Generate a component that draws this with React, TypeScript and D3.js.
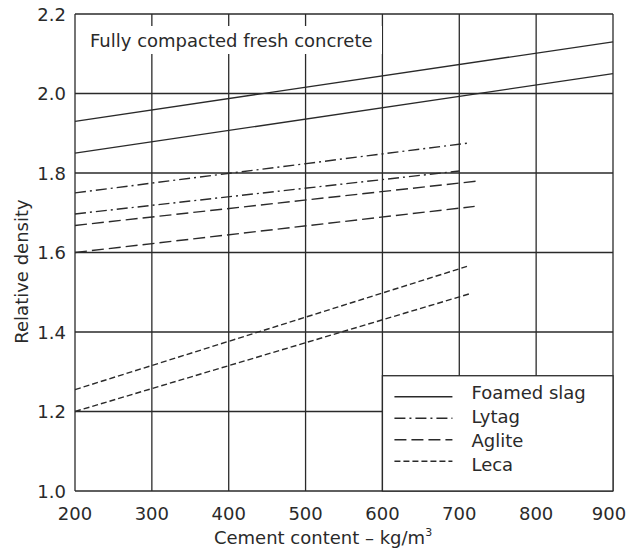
import * as d3 from "d3";

// chart values
const xTicks = [200, 300, 400, 500, 600, 700, 800, 900];
const yTicks = [1.0, 1.2, 1.4, 1.6, 1.8, 2.0, 2.2];
const materials = ["Foamed slag", "Lytag", "Aglite", "Leca"];

// each material has an upper and lower bound line: [cement, density]
const foamedSlagUpper: [number, number][] = [[200, 1.93], [900, 2.13]];
const foamedSlagLower: [number, number][] = [[200, 1.85], [900, 2.05]];
const lytagUpper: [number, number][] = [[200, 1.75], [710, 1.875]];
const lytagLower: [number, number][] = [[200, 1.697], [700, 1.805]];
const agliteUpper: [number, number][] = [[200, 1.668], [725, 1.78]];
const agliteLower: [number, number][] = [[200, 1.6], [720, 1.716]];
const lecaUpper: [number, number][] = [[200, 1.255], [710, 1.565]];
const lecaLower: [number, number][] = [[200, 1.2], [715, 1.497]];

const dashes: Record<string, string> = {
  "Foamed slag": "none",
  Lytag: "11 4 2 4",
  Aglite: "12 5",
  Leca: "6 3",
};

const lines = [
  { name: "Foamed slag", pts: foamedSlagUpper },
  { name: "Foamed slag", pts: foamedSlagLower },
  { name: "Lytag", pts: lytagUpper },
  { name: "Lytag", pts: lytagLower },
  { name: "Aglite", pts: agliteUpper },
  { name: "Aglite", pts: agliteLower },
  { name: "Leca", pts: lecaUpper },
  { name: "Leca", pts: lecaLower },
];

const width = 628;
const height = 552;
const margin = { top: 14, right: 15, bottom: 61, left: 75 };
const ink = "#2a2a2a";
const font = "'DejaVu Sans', sans-serif";
const fs = 18;

export default function App() {
  const x = d3.scaleLinear([200, 900], [margin.left, width - margin.right]);
  const y = d3.scaleLinear([1.0, 2.2], [height - margin.bottom, margin.top]);
  const line = d3
    .line<[number, number]>()
    .x((d) => x(d[0]))
    .y((d) => y(d[1]));

  const legendLeft = x(600);
  const legendTop = y(1.29);

  return (
    <svg
      width={width}
      height={height}
      style={{ position: "absolute", left: 0, top: 0, background: "#fff" }}
      fontFamily={font}
    >
      <rect width={width} height={height} fill="#fff" />

      {/* grid */}
      {xTicks.map((t) => (
        <line key={"gx" + t} x1={x(t)} x2={x(t)} y1={y(1.0)} y2={y(2.2)} stroke={ink} strokeWidth={1.3} />
      ))}
      {yTicks.map((t) => (
        <line key={"gy" + t} x1={x(200)} x2={x(900)} y1={y(t)} y2={y(t)} stroke={ink} strokeWidth={1.3} />
      ))}

      {/* annotation with white backing */}
      <rect x={87} y={26} width={295} height={28} fill="#fff" />
      <text x={90} y={47} fontSize={fs} fill={ink}>
        Fully compacted fresh concrete
      </text>

      {/* data lines */}
      {lines.map((l, i) => (
        <path
          key={i}
          d={line(l.pts) ?? ""}
          fill="none"
          stroke={ink}
          strokeWidth={1.4}
          strokeDasharray={dashes[l.name]}
        />
      ))}

      {/* legend */}
      <rect
        x={legendLeft}
        y={legendTop}
        width={x(900) - legendLeft}
        height={y(1.0) - legendTop}
        fill="#fff"
        stroke={ink}
        strokeWidth={1.3}
      />
      {materials.map((m, i) => {
        const ly = legendTop + 21 + i * 21.5;
        const ty = legendTop + 23 + i * 24;
        return (
          <g key={m}>
            <line x1={legendLeft + 12} x2={legendLeft + 70} y1={ly} y2={ly} stroke={ink} strokeWidth={1.4} strokeDasharray={dashes[m]} />
            <text x={legendLeft + 89} y={ty} fontSize={fs} fill={ink}>
              {m}
            </text>
          </g>
        );
      })}

      {/* y tick labels */}
      {yTicks.map((t) => (
        <text key={"ly" + t} x={x(200) - 9} y={y(t) + 6.5} fontSize={fs} textAnchor="end" fill={ink}>
          {t.toFixed(1)}
        </text>
      ))}
      {/* x tick labels (last one nudged so it stays on the page) */}
      {xTicks.map((t) => (
        <text
          key={"lx" + t}
          x={Math.min(x(t), width - 19)}
          y={y(1.0) + 29}
          fontSize={fs}
          textAnchor="middle"
          fill={ink}
        >
          {t}
        </text>
      ))}

      {/* axis titles */}
      <text x={323} y={544} fontSize={fs} textAnchor="middle" fill={ink}>
        Cement content – kg/m
        <tspan dy={-8} fontSize={11}>3</tspan>
      </text>
      <text
        transform={`translate(28, ${(y(1.0) + y(2.2)) / 2 + 19}) rotate(-90)`}
        fontSize={fs}
        textAnchor="middle"
        fill={ink}
      >
        Relative density
      </text>
    </svg>
  );
}
